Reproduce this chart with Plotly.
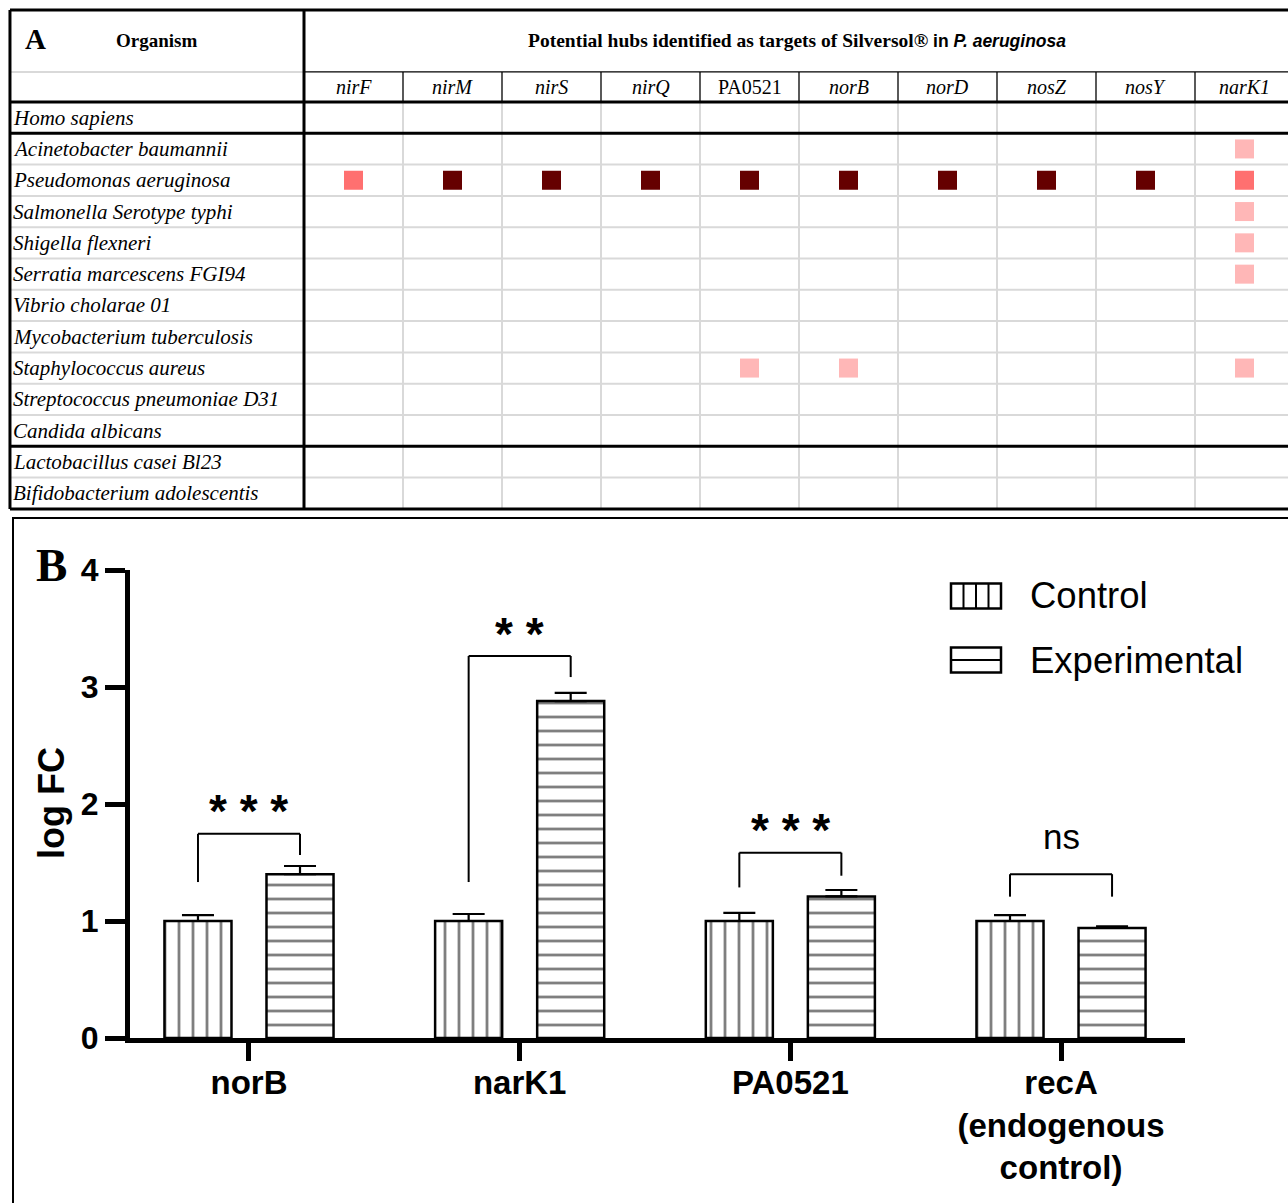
import plotly.graph_objects as go

# ---------------- Panel A data ----------------
genes = ["nirF", "nirM", "nirS", "nirQ", "PA0521", "norB", "norD", "nosZ", "nosY", "narK1"]
gene_italic = [True, True, True, True, False, True, True, True, True, True]
organisms = [
    "Homo sapiens",
    "Acinetobacter baumannii",
    "Pseudomonas aeruginosa",
    "Salmonella Serotype typhi",
    "Shigella flexneri",
    "Serratia marcescens FGI94",
    "Vibrio cholarae 01",
    "Mycobacterium tuberculosis",
    "Staphylococcus aureus",
    "Streptococcus pneumoniae D31",
    "Candida albicans",
    "Lactobacillus casei Bl23",
    "Bifidobacterium adolescentis",
]
# hit level per organism (row) and gene (column): 0 none, 1 low, 2 medium, 3 high
hit_levels = [
    [0, 0, 0, 0, 0, 0, 0, 0, 0, 0],
    [0, 0, 0, 0, 0, 0, 0, 0, 0, 1],
    [2, 3, 3, 3, 3, 3, 3, 3, 3, 2],
    [0, 0, 0, 0, 0, 0, 0, 0, 0, 1],
    [0, 0, 0, 0, 0, 0, 0, 0, 0, 1],
    [0, 0, 0, 0, 0, 0, 0, 0, 0, 1],
    [0, 0, 0, 0, 0, 0, 0, 0, 0, 0],
    [0, 0, 0, 0, 0, 0, 0, 0, 0, 0],
    [0, 0, 0, 0, 1, 1, 0, 0, 0, 1],
    [0, 0, 0, 0, 0, 0, 0, 0, 0, 0],
    [0, 0, 0, 0, 0, 0, 0, 0, 0, 0],
    [0, 0, 0, 0, 0, 0, 0, 0, 0, 0],
    [0, 0, 0, 0, 0, 0, 0, 0, 0, 0],
]
thick_after_rows = [0, 10]  # group separators (below Homo sapiens, below Candida)

# ---------------- Panel B data ----------------
categories = ["norB", "narK1", "PA0521", "recA<br>(endogenous<br>control)"]
control_mean = [1.0, 1.0, 1.0, 1.0]
control_err = [0.05, 0.06, 0.07, 0.05]
exp_mean = [1.40, 2.88, 1.21, 0.94]
exp_err = [0.07, 0.07, 0.055, 0.015]
sig_labels = ["* * *", "* *", "* * *", "ns"]
bracket_top = [1.745, 3.265, 1.584, 1.40]
bracket_left_end = [1.333, 1.333, 1.287, 1.208]
bracket_right_end = [1.564, 3.085, 1.387, 1.208]
sig_label_y = [2.0, 3.51, 1.84, 1.70]

# ---------------- layout helpers ----------------
W, H = 1288, 1203
def px(xp):
    return xp / W
def py(yp):
    return 1 - yp / H

SERIF = "Liberation Serif"
SANS = "Liberation Sans"
level_colors = {1: "#ffb7b7", 2: "#ff7070", 3: "#650000"}

fig = go.Figure()

# ---------------- Panel B bars ----------------
BARGAP = 0.246
BARGROUPGAP = 0.343
fig.add_trace(go.Bar(
    name="Control", x=categories, y=control_mean,
    error_y=dict(type="data", array=control_err, arrayminus=[0] * len(control_err),
                 symmetric=False, color="black", thickness=2.2, width=16),
    marker=dict(color="white", line=dict(color="black", width=2.5),
                pattern=dict(shape="|", size=14, solidity=0.2, fgcolor="black", bgcolor="white")),
    showlegend=False, xaxis="x", yaxis="y",
))
fig.add_trace(go.Bar(
    name="Experimental", x=categories, y=exp_mean,
    error_y=dict(type="data", array=exp_err, arrayminus=[0] * len(exp_err),
                 symmetric=False, color="black", thickness=2.2, width=16),
    marker=dict(color="white", line=dict(color="black", width=2.5),
                pattern=dict(shape="-", size=14, solidity=0.2, fgcolor="black", bgcolor="white")),
    showlegend=False, xaxis="x", yaxis="y",
))

shapes = []
annotations = []

# significance brackets
off = (1 - BARGAP) / 4
for i in range(len(categories)):
    xl, xr = i - off, i + off
    for (x0, y0, x1, y1) in [(xl, bracket_left_end[i], xl, bracket_top[i]),
                             (xl, bracket_top[i], xr, bracket_top[i]),
                             (xr, bracket_top[i], xr, bracket_right_end[i])]:
        shapes.append(dict(type="line", xref="x", yref="y", x0=x0, y0=y0, x1=x1, y1=y1,
                           line=dict(color="black", width=2)))
    is_ns = sig_labels[i] == "ns"
    annotations.append(dict(
        xref="x", yref="y", x=i, y=sig_label_y[i], text=sig_labels[i], showarrow=False,
        xanchor="center", yanchor="middle", yshift=3 if is_ns else -7,
        font=dict(family=SANS, size=35 if is_ns else 46, color="black",
                  weight="normal" if is_ns else "bold"),
    ))

# ---------------- Panel A table (axes x2 / y2) ----------------
n_rows = len(organisms)
n_cols = len(genes)
COL_PX = 99.0
ROW_PX = 31.3
X_LEFT = -3.47       # left edge of organism column (column units)
X_RIGHT = 9.8
GENE_HDR_TOP = -1.46  # top of gene-name header row (row units)
TABLE_TOP = -3.44
TABLE_BOTTOM = n_rows - 0.5

# colored squares
sq_x, sq_y, sq_c = [], [], []
for r, row in enumerate(hit_levels):
    for c, lv in enumerate(row):
        if lv > 0:
            sq_x.append(c)
            sq_y.append(r)
            sq_c.append(level_colors[lv])
fig.add_trace(go.Scatter(
    x=sq_x, y=sq_y, mode="markers", xaxis="x2", yaxis="y2",
    marker=dict(symbol="square", size=19, color=sq_c, line=dict(width=0)),
    showlegend=False, hoverinfo="skip",
))

GRAY = "#d9d9d9"
def tline(x0, y0, x1, y1, color, width):
    shapes.append(dict(type="line", xref="x2", yref="y2", x0=x0, y0=y0, x1=x1, y1=y1,
                       line=dict(color=color, width=width), layer="above"))

# gray grid
tline(X_LEFT, GENE_HDR_TOP, -0.5, GENE_HDR_TOP, GRAY, 2)
for r in range(n_rows - 1):
    if r not in thick_after_rows:
        tline(X_LEFT, r + 0.5, X_RIGHT, r + 0.5, GRAY, 2)
for c in range(n_cols):
    tline(c + 0.5, -0.5, c + 0.5, TABLE_BOTTOM, GRAY, 2)
# thin black lines in gene header
tline(-0.5, GENE_HDR_TOP, X_RIGHT, GENE_HDR_TOP, "black", 1.3)
for c in range(n_cols):
    tline(c + 0.5, GENE_HDR_TOP, c + 0.5, -0.5, "black", 1.3)
# thick lines
tline(X_LEFT, TABLE_TOP, X_RIGHT, TABLE_TOP, "black", 3)
tline(X_LEFT, TABLE_TOP, X_LEFT, TABLE_BOTTOM, "black", 3)
tline(-0.5, TABLE_TOP, -0.5, TABLE_BOTTOM, "black", 3)
tline(X_LEFT, -0.5, X_RIGHT, -0.5, "black", 3)
for r in thick_after_rows:
    tline(X_LEFT, r + 0.5, X_RIGHT, r + 0.5, "black", 3)
tline(X_LEFT, TABLE_BOTTOM, X_RIGHT, TABLE_BOTTOM, "black", 3)

# table texts
for r, name in enumerate(organisms):
    annotations.append(dict(xref="x2", yref="y2", x=X_LEFT + 0.01, y=r, text=f"<i>{name}</i>",
                            showarrow=False, xanchor="left", yanchor="middle",
                            font=dict(family=SERIF, size=21, color="black")))
for c, g in enumerate(genes):
    annotations.append(dict(xref="x2", yref="y2", x=c, y=(GENE_HDR_TOP - 0.5) / 2,
                            text=f"<i>{g}</i>" if gene_italic[c] else g,
                            showarrow=False, xanchor="center", yanchor="middle",
                            font=dict(family=SERIF, size=20, color="black")))
hdr_mid = (TABLE_TOP + GENE_HDR_TOP) / 2
annotations.append(dict(xref="x2", yref="y2", x=X_LEFT + 0.26, y=hdr_mid - 0.05, text="<b>A</b>",
                        showarrow=False, xanchor="center", yanchor="middle",
                        font=dict(family=SERIF, size=29, color="black")))
annotations.append(dict(xref="x2", yref="y2", x=(X_LEFT - 0.5) / 2, y=hdr_mid, text="<b>Organism</b>",
                        showarrow=False, xanchor="center", yanchor="middle",
                        font=dict(family=SERIF, size=19, color="black")))
annotations.append(dict(
    xref="x2", yref="y2", x=(n_cols - 1) / 2 - 0.02, y=hdr_mid,
    text=("<b>Potential hubs identified as targets of Silversol®</b>"
          f"<span style='font-family:{SANS};font-size:17.5px'><b> in <i>P. aeruginosa</i></b></span>"),
    showarrow=False, xanchor="center", yanchor="middle",
    font=dict(family=SERIF, size=19.5, color="black")))

# ---------------- Panel B frame, labels, legend ----------------
shapes.append(dict(type="rect", xref="paper", yref="paper", x0=px(13), y0=py(1230), x1=px(1310), y1=py(518),
                   line=dict(color="black", width=2), fillcolor="rgba(0,0,0,0)", layer="below"))
annotations.append(dict(xref="paper", yref="paper", x=px(51), y=py(565), text="<b>B</b>", showarrow=False,
                        xanchor="center", yanchor="middle", font=dict(family=SERIF, size=47, color="black")))
annotations.append(dict(xref="paper", yref="paper", x=px(51), y=py(803), text="<b>log FC</b>", showarrow=False,
                        textangle=-90, xanchor="center", yanchor="middle",
                        font=dict(family=SANS, size=36, color="black")))

legend_items = [("Control", "|"), ("Experimental", "-")]
leg_y = [596, 660]
for (label, pat), yc in zip(legend_items, leg_y):
    x0p, x1p = 951, 1001
    y0p, y1p = yc - 12.5, yc + 12.5
    shapes.append(dict(type="rect", xref="paper", yref="paper", x0=px(x0p), x1=px(x1p), y0=py(y1p), y1=py(y0p),
                       line=dict(color="black", width=2.5), fillcolor="white"))
    if pat == "|":
        for k in range(1, 4):
            xx = x0p + (x1p - x0p) * k / 4
            shapes.append(dict(type="line", xref="paper", yref="paper", x0=px(xx), x1=px(xx),
                               y0=py(y1p), y1=py(y0p), line=dict(color="black", width=2)))
    else:
        shapes.append(dict(type="line", xref="paper", yref="paper", x0=px(x0p), x1=px(x1p),
                           y0=py(yc), y1=py(yc), line=dict(color="black", width=2)))
    annotations.append(dict(xref="paper", yref="paper", x=px(1028), y=py(yc), text=label, showarrow=False,
                            xanchor="left", yanchor="middle", font=dict(family=SANS, size=36.5, color="black")))

fig.update_layout(
    width=W, height=H,
    margin=dict(l=0, r=0, t=0, b=0, pad=0, autoexpand=False),
    paper_bgcolor="white", plot_bgcolor="rgba(0,0,0,0)",
    barmode="group", bargap=BARGAP, bargroupgap=BARGROUPGAP,
    showlegend=False,
    xaxis=dict(domain=[px(130), px(1185)], anchor="y", type="category", automargin=False,
               range=[-0.4396, 3.458], showline=True, linewidth=5, linecolor="black",
               ticks="outside", ticklen=18, tickwidth=5, tickcolor="black",
               ticklabelstandoff=-7,
               showgrid=False, zeroline=False,
               tickfont=dict(family=SANS, size=33, color="black", weight="bold")),
    yaxis=dict(domain=[py(1038), py(570)], anchor="x", range=[0, 4], automargin=False,
               tickvals=[0, 1, 2, 3, 4], showline=True, linewidth=5, linecolor="black",
               ticks="outside", ticklen=20, tickwidth=5, tickcolor="black",
               showgrid=False, zeroline=False,
               tickfont=dict(family=SANS, size=32, color="black", weight="bold")),
    xaxis2=dict(domain=[0, 1], anchor="y2", range=[-304 / COL_PX - 0.5, (W - 304) / COL_PX - 0.5],
                visible=False, showgrid=False, zeroline=False, automargin=False),
    yaxis2=dict(domain=[py(512), 1], anchor="x2",
                range=[(512 - 102) / ROW_PX - 0.5, (0 - 102) / ROW_PX - 0.5],
                visible=False, showgrid=False, zeroline=False, automargin=False),
    shapes=shapes,
    annotations=annotations,
)

fig.write_html("out.html", config={"displayModeBar": False},
               post_script="document.body.style.margin='0';document.body.style.overflow='hidden';")
